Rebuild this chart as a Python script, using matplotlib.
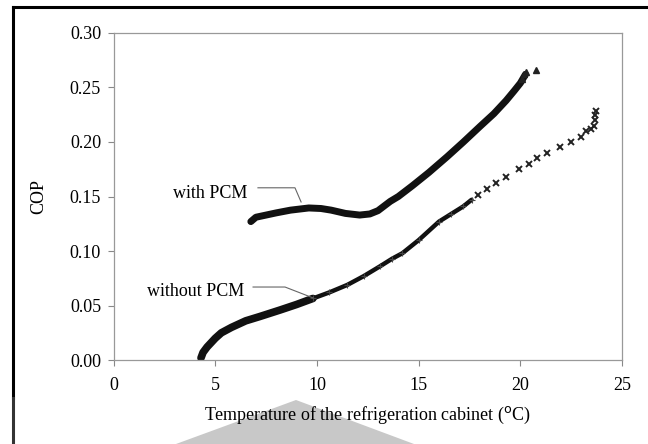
import matplotlib
matplotlib.use('Agg')
import matplotlib.pyplot as plt
from matplotlib.patches import Polygon
from matplotlib.lines import Line2D

plt.rcParams['font.family'] = ['Liberation Serif', 'DejaVu Serif']

# with PCM (dense record)
with_x = [6.75, 7.0, 7.5, 8.0, 8.7, 9.6, 10.2, 10.7, 11.4, 12.1, 12.6, 13.0,
          13.6, 14.0, 14.7, 15.5, 16.4, 17.2, 18.0, 18.7, 19.3, 19.7, 20.0, 20.25]
with_y = [0.127, 0.131, 0.133, 0.135, 0.1375, 0.1395, 0.139, 0.1375, 0.1345, 0.133, 0.134, 0.137,
          0.1455, 0.150, 0.160, 0.172, 0.1865, 0.200, 0.214, 0.226, 0.238, 0.247, 0.254, 0.262]
with_tail_x = [20.1, 20.2, 20.3, 20.75]
with_tail_y = [0.258, 0.262, 0.264, 0.266]

# without PCM
without_x = [4.3, 4.4, 4.6, 5.0, 5.3, 5.8, 6.5, 7.2, 8.2, 9.0, 9.8, 10.6, 11.5,
             12.3, 13.1, 13.7, 14.2, 15.0, 16.0, 16.6, 17.2, 17.6]
without_y = [0.002, 0.007, 0.012, 0.020, 0.025, 0.030, 0.036, 0.040, 0.046, 0.051, 0.0565, 0.062, 0.069,
             0.077, 0.086, 0.093, 0.098, 0.110, 0.127, 0.134, 0.141, 0.147]
without_tail_x = [17.9, 18.35, 18.8, 19.3, 19.95, 20.4, 20.8, 21.3, 21.95, 22.5, 23.0,
                  23.25, 23.45, 23.6, 23.65, 23.65, 23.7]
without_tail_y = [0.151, 0.157, 0.162, 0.168, 0.175, 0.180, 0.185, 0.190, 0.195, 0.200, 0.205,
                  0.210, 0.212, 0.215, 0.220, 0.225, 0.228]

x_ticks = [0, 5, 10, 15, 20, 25]
y_ticks = [0.00, 0.05, 0.10, 0.15, 0.20, 0.25, 0.30]

fig = plt.figure(figsize=(6.48, 4.44), dpi=100)
ax = fig.add_axes([0.1752, 0.189, 0.7848, 0.7368])

ax.plot(with_x, with_y, color='#111111', lw=5, solid_capstyle='round')
ax.plot(with_tail_x, with_tail_y, ls='none', marker='^', ms=4, color='#222222')
ax.plot(without_x[:11], without_y[:11], color='#111111', lw=5.5, solid_capstyle='round')
ax.plot(without_x[10:], without_y[10:], color='#111111', lw=3.2, solid_capstyle='round')
ax.plot(without_x[10:], without_y[10:], ls='none', marker='+', ms=5, mew=0.8, color='#444444')
ax.plot(without_tail_x, without_tail_y, ls='none', marker='x', ms=4, mew=1.4, color='#222222')

ax.set_xlim(0, 25)
ax.set_ylim(0, 0.30)
ax.set_xticks(x_ticks)
ax.set_yticks(y_ticks)
ax.set_yticklabels([f'{v:.2f}' for v in y_ticks])
ax.tick_params(direction='out', length=4, width=0.8, color='#888888', labelsize=13, pad=5)
ax.tick_params(axis='x', pad=8)
for s in ax.spines.values():
    s.set_color('#999999')
    s.set_linewidth(0.9)

ax.set_xlabel('Temperature of the refrigeration cabinet ($^{\\rm o}$C)', fontsize=13, labelpad=8)
ax.set_ylabel('COP', fontsize=13, labelpad=16)

# labels with leader lines
ax.text(4.74, 0.153, 'with PCM', fontsize=13, ha='center', va='center')
ax.plot([7.1, 8.92, 9.22], [0.158, 0.158, 0.145], color='#666666', lw=0.8)
ax.text(4.06, 0.063, 'without PCM', fontsize=13, ha='center', va='center')
ax.plot([6.86, 8.43, 9.81], [0.067, 0.067, 0.057], color='#666666', lw=0.8)

# scan frame and grey shape
fig.patches.append(Polygon([[176 / 648, 0], [296 / 648, 1 - 400 / 444], [414 / 648, 0]],
                           closed=True, transform=fig.transFigure, facecolor='#c8c8c8',
                           edgecolor='none', zorder=-1))
fig.lines.append(Line2D([13 / 648, 1], [1 - 7 / 444, 1 - 7 / 444], transform=fig.transFigure,
                        color='black', lw=2.2))
fig.lines.append(Line2D([13 / 648, 13 / 648], [1 - 398 / 444, 1 - 7 / 444], transform=fig.transFigure,
                        color='black', lw=2.2))
fig.lines.append(Line2D([13 / 648, 13 / 648], [0, 1 - 398 / 444], transform=fig.transFigure,
                        color='#333333', lw=2.2))

fig.savefig('out.png', dpi=100)
